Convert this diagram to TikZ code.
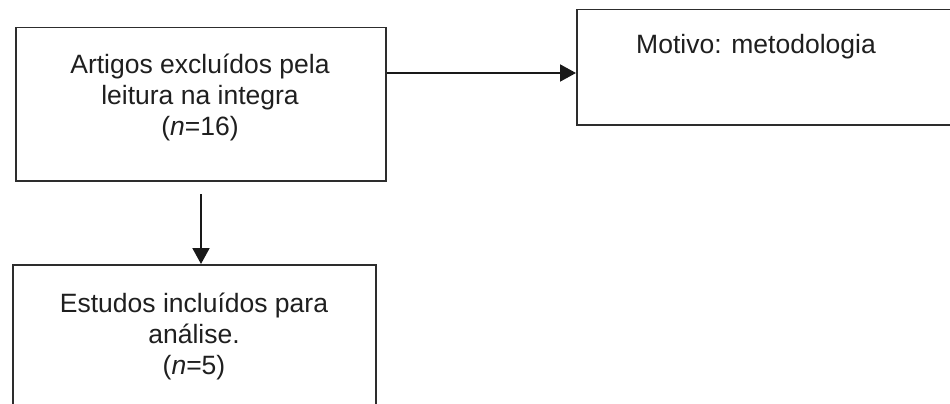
\documentclass[tikz,border=0pt]{standalone}
\usepackage{fontspec}
\setmainfont{Liberation Sans}
\usetikzlibrary{arrows.meta}
\definecolor{boxgray}{RGB}{45,45,45}
\begin{document}
\begin{tikzpicture}[x=1pt,y=-1pt,
  boxst/.style={draw=boxgray, line width=1.5pt, rectangle, inner sep=0pt, anchor=north west},
  txt/.style={inner sep=0pt, text=black!88, font=\fontsize{26.5}{31}\selectfont},
  arr/.style={draw=black!90, line width=2pt, -{Triangle[length=16pt,width=17pt]}}]
\clip (0,0) rectangle (950,404);
\fill[white] (0,0) rectangle (950,404);
% boxes
\node[boxst, minimum width=370pt, minimum height=153pt] (b1) at (15,27) {};
\node[boxst, minimum width=420pt, minimum height=115pt] (b2) at (576,9) {};
\node[boxst, minimum width=363pt, minimum height=170pt] (b3) at (12,264) {};
% texts
\node[txt, anchor=base] (t1) at (200,74) {\begin{tabular}[t]{@{}c@{}}Artigos excluídos pela\\leitura na integra\\(\textit{n}=16)\end{tabular}};
\node[txt, anchor=base west] (t2) at (636,54) {Motivo: metodologia};
\node[txt, anchor=base] (t3) at (194,312) {\begin{tabular}[t]{@{}c@{}}Estudos incluídos para\\análise.\\(\textit{n}=5)\end{tabular}};
% connectors
\coordinate (h1) at (b1.east |- 0,73);
\draw[arr] (h1) -- (h1 -| b2.west);
\coordinate (v1) at (201,194);
\draw[arr] (v1) -- (v1 |- b3.north);
\end{tikzpicture}
\end{document}
